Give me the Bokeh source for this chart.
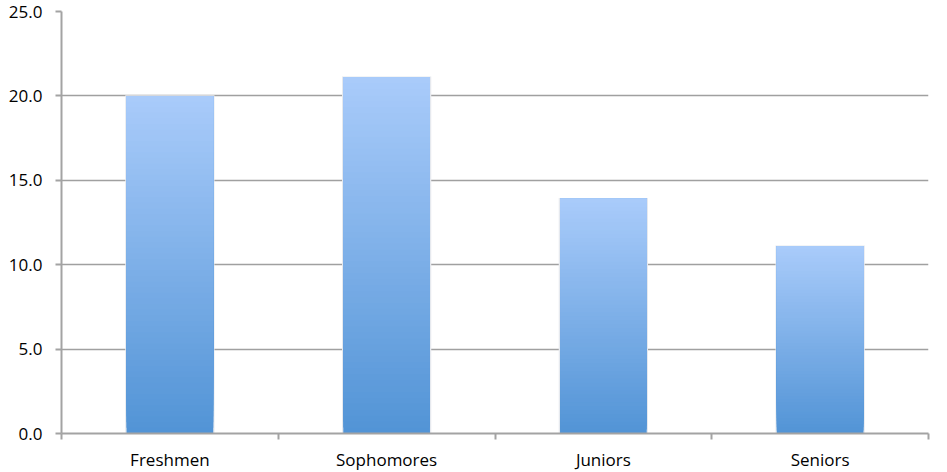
from bokeh.plotting import figure
from bokeh.models import Range1d, FixedTicker, NumeralTickFormatter, ColumnDataSource
from bokeh.embed import file_html
from bokeh.resources import INLINE

categories = ["Freshmen", "Sophomores", "Juniors", "Seniors"]
values = [20.0, 21.1, 13.9, 11.1]
y_ticks = [0, 5, 10, 15, 20, 25]

# gradient slices (derived from the values); each slice runs to the bar top so no gaps appear
N = 60
top_rgb = (170, 204, 251)
bot_rgb = (82, 148, 214)
xs, bottoms, tops, colors = [], [], [], []
for i, v in enumerate(values):
    for k in range(N):
        xs.append(i + 0.5)
        bottoms.append(v * k / N)
        tops.append(v)
        t = (k + 0.5) / N
        r = int(bot_rgb[0] + (top_rgb[0] - bot_rgb[0]) * t)
        g = int(bot_rgb[1] + (top_rgb[1] - bot_rgb[1]) * t)
        b = int(bot_rgb[2] + (top_rgb[2] - bot_rgb[2]) * t)
        colors.append("#%02x%02x%02x" % (r, g, b))
src = ColumnDataSource(dict(x=xs, bottom=bottoms, top=tops, color=colors))

p = figure(frame_width=867, frame_height=422, output_backend="svg", toolbar_location=None,
           x_range=Range1d(0, len(categories)), y_range=Range1d(0, 25),
           min_border_left=61, min_border_top=11, min_border_right=12, min_border_bottom=4)
p.outline_line_color = None
p.background_fill_color = "white"
p.border_fill_color = "white"

# soft shadow edge
p.vbar(x=[i + 0.5 for i in range(len(values))], top=values, bottom=0, width=0.405,
       fill_color=None, line_color="#e6e9ee", line_width=1.5, line_join="miter")
p.vbar(x="x", top="top", bottom="bottom", width=0.4, fill_color="color", line_color=None,
       source=src)

axis_color = "#a3a3a3"
p.xgrid.grid_line_color = None
p.ygrid.grid_line_color = "#a0a0a0"
p.ygrid.grid_line_width = 1.3
p.ygrid.ticker = FixedTicker(ticks=y_ticks)

yax = p.yaxis[0]
yax.ticker = FixedTicker(ticks=y_ticks)
yax.formatter = NumeralTickFormatter(format="0.0")
yax.axis_line_color = axis_color
yax.axis_line_width = 2
yax.major_tick_line_color = axis_color
yax.major_tick_line_width = 2
yax.major_tick_out = 6
yax.major_tick_in = 0
yax.minor_tick_line_color = None
yax.major_label_text_font = "Open Sans"
yax.major_label_text_font_size = "17px"
yax.major_label_text_color = "black"
yax.major_label_standoff = 13

xax = p.xaxis[0]
xax.ticker = FixedTicker(ticks=[i + 0.5 for i in range(len(categories))],
                         minor_ticks=list(range(len(categories) + 1)))
xax.major_label_overrides = {i + 0.5: c for i, c in enumerate(categories)}
xax.axis_line_color = axis_color
xax.axis_line_width = 2
xax.major_tick_line_color = None
xax.major_tick_out = 0
xax.major_tick_in = 0
xax.minor_tick_line_color = axis_color
xax.minor_tick_line_width = 2
xax.minor_tick_out = 6
xax.minor_tick_in = 0
xax.major_label_text_font = "Open Sans"
xax.major_label_text_font_size = "17px"
xax.major_label_text_color = "black"
xax.major_label_standoff = 8

open("out.html", "w").write(file_html(p, INLINE))
